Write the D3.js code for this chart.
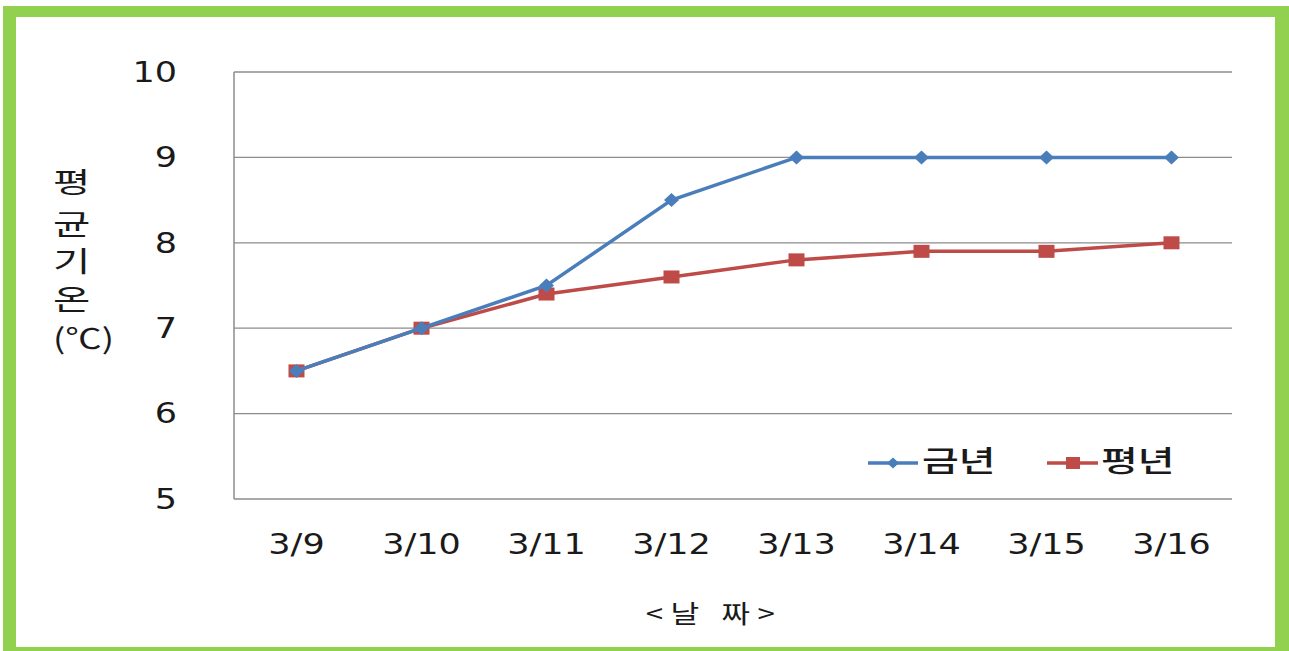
<!DOCTYPE html>
<html><head><meta charset="utf-8">
<script src="https://cdn.jsdelivr.net/npm/d3@7"></script>
<style>body{margin:0;background:#fff;}svg{display:block;}</style>
</head><body>
<svg id="c" width="1289" height="651"></svg>
<script>
const categories = ["3/9","3/10","3/11","3/12","3/13","3/14","3/15","3/16"];
const thisYear = [6.5, 7.0, 7.5, 8.5, 9.0, 9.0, 9.0, 9.0];
const normalYear = [6.5, 7.0, 7.4, 7.6, 7.8, 7.9, 7.9, 8.0];
const yTicks = [5, 6, 7, 8, 9, 10];
const seriesNames = ["금년", "평년"];
const yTitleChars = ["평", "균", "기", "온", "(℃)"];
const xTitle = "<날 짜>";

const svg = d3.select("#c");
const blue = "#4A7EBB", red = "#BE4B48", grid = "#8c8c8c";

// green frame
svg.append("rect").attr("x",3).attr("y",6).attr("width",1286).attr("height",645).attr("fill","#92D050");
svg.append("rect").attr("x",16).attr("y",17).attr("width",1259).attr("height",630).attr("fill","#fff");

const L=234, R=1234, T=72, B=499;
const x = d3.scaleBand().domain(categories).range([L,R]);
const y = d3.scaleLinear().domain([5,10]).range([B,T]);

function stext(g, txt, px, py, size, anchor, family, sx){
  return g.append("text").text(txt)
    .attr("transform",`translate(${px},${py}) scale(${sx||1.25},1)`)
    .attr("text-anchor",anchor).attr("dominant-baseline","central")
    .attr("font-size",size).attr("font-family",family).attr("fill","#1a1a1a");
}

// gridlines
svg.append("g").selectAll("line").data(yTicks.filter(d=>d>5)).join("line")
  .attr("x1",L).attr("x2",R-2).attr("y1",d=>y(d)).attr("y2",d=>y(d))
  .attr("stroke",grid).attr("stroke-width",1.3);
// axes lines
svg.append("line").attr("x1",L).attr("x2",L).attr("y1",T).attr("y2",B).attr("stroke",grid).attr("stroke-width",1.5);
svg.append("line").attr("x1",L).attr("x2",R-2).attr("y1",B).attr("y2",B).attr("stroke",grid).attr("stroke-width",1.5);

// y tick labels
const gy = svg.append("g");
yTicks.forEach(t=>stext(gy, t, 177, y(t), 28, "end", "DejaVu Sans"));
// x tick labels
const gx = svg.append("g");
categories.forEach(c=>stext(gx, c, x(c)+x.bandwidth()/2, 544, 28, "middle", "DejaVu Sans"));

// titles
const gt = svg.append("g");
const yPos = [181, 223, 260, 298, 336];
yTitleChars.forEach((ch,i)=>stext(gt, ch, 53, yPos[i], 28, "start", "Noto Sans CJK KR", i<4?1.45:1.3));
stext(gt, xTitle, 714, 612, 25, "middle", "Noto Sans CJK KR").attr("letter-spacing",6);

const cx = c=>x(c)+x.bandwidth()/2;
const line = d3.line().x((d,i)=>cx(categories[i])).y(d=>y(d));

// red series
svg.append("path").datum(normalYear).attr("d",line).attr("fill","none").attr("stroke",red).attr("stroke-width",3.5);
svg.append("g").selectAll("rect").data(normalYear).join("rect")
  .attr("x",(d,i)=>cx(categories[i])-8).attr("y",d=>y(d)-6.5).attr("width",16).attr("height",13).attr("fill",red);
// blue series
svg.append("path").datum(thisYear).attr("d",line).attr("fill","none").attr("stroke",blue).attr("stroke-width",3.5);
const diamond = (px,py,w,h)=>`M${px},${py-h}L${px+w},${py}L${px},${py+h}L${px-w},${py}Z`;
svg.append("g").selectAll("path").data(thisYear).join("path")
  .attr("d",(d,i)=>diamond(cx(categories[i]),y(d),7.5,7)).attr("fill",blue);

// legend
const lg = svg.append("g");
lg.append("line").attr("x1",868).attr("x2",918).attr("y1",463).attr("y2",463).attr("stroke",blue).attr("stroke-width",3.5);
lg.append("path").attr("d",diamond(893,463,6,5.5)).attr("fill",blue);
stext(lg, seriesNames[0], 922, 459, 29, "start", "Noto Sans CJK KR", 1.38).attr("font-weight",500);
lg.append("line").attr("x1",1047).attr("x2",1098).attr("y1",463).attr("y2",463).attr("stroke",red).attr("stroke-width",3.5);
lg.append("rect").attr("x",1066).attr("y",457).attr("width",14).attr("height",12).attr("fill",red);
stext(lg, seriesNames[1], 1101, 459, 29, "start", "Noto Sans CJK KR", 1.38).attr("font-weight",500);
</script>
</body></html>
